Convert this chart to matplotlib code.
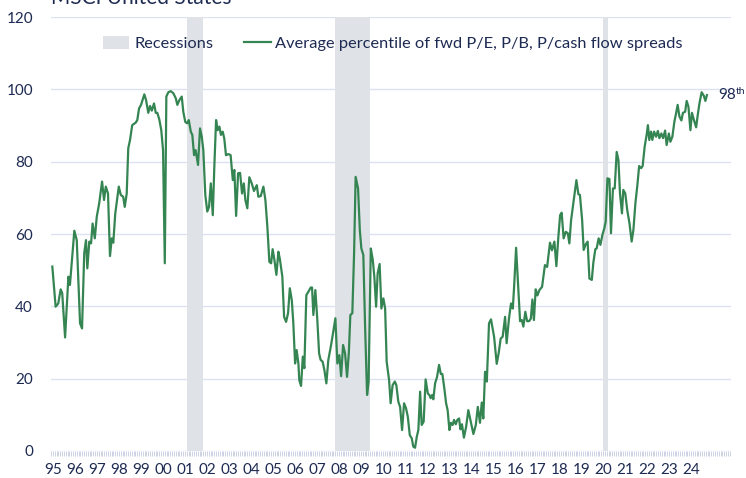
import matplotlib
matplotlib.use("Agg")
import matplotlib.pyplot as plt
from matplotlib.patches import Patch
from matplotlib.lines import Line2D
from matplotlib.ticker import MultipleLocator

# --- data (fractional year, percentile) ---
dates = [
    1995.06, 1995.21, 1995.33, 1995.44, 1995.51, 1995.64, 1995.79, 1995.86, 1996.06, 1996.17,
    1996.32, 1996.41, 1996.51, 1996.59, 1996.65, 1996.74, 1996.82, 1996.89, 1996.99, 1997.08,
    1997.19, 1997.32, 1997.41, 1997.49, 1997.59, 1997.68, 1997.76, 1997.83, 1997.92, 1998.08,
    1998.17, 1998.28, 1998.35, 1998.44, 1998.51, 1998.59, 1998.69, 1998.85, 1998.92, 1999.00,
    1999.09, 1999.24, 1999.32, 1999.42, 1999.50, 1999.58, 1999.68, 1999.76, 1999.83, 1999.92,
    2000.01, 2000.09, 2000.17, 2000.24, 2000.33, 2000.44, 2000.56, 2000.67, 2000.74, 2000.83,
    2000.94, 2001.01, 2001.10, 2001.18, 2001.26, 2001.35, 2001.42, 2001.50, 2001.57, 2001.68,
    2001.77, 2001.85, 2001.92, 2002.01, 2002.10, 2002.18, 2002.26, 2002.35, 2002.42, 2002.50,
    2002.57, 2002.65, 2002.72, 2002.80, 2002.87, 2002.95, 2003.06, 2003.16, 2003.26, 2003.33,
    2003.41, 2003.50, 2003.59, 2003.68, 2003.76, 2003.83, 2003.92, 2004.01, 2004.12, 2004.22,
    2004.35, 2004.42, 2004.53, 2004.65, 2004.74, 2004.83, 2004.92, 2005.00, 2005.07, 2005.15,
    2005.24, 2005.33, 2005.40, 2005.51, 2005.59, 2005.68, 2005.77, 2005.85, 2005.94, 2006.01,
    2006.09, 2006.16, 2006.24, 2006.28, 2006.36, 2006.44, 2006.51, 2006.60, 2006.69, 2006.80,
    2006.86, 2006.92, 2007.01, 2007.10, 2007.18, 2007.25, 2007.34, 2007.42, 2007.51, 2007.60,
    2007.71, 2007.80, 2007.92, 2008.01, 2008.10, 2008.18, 2008.27, 2008.36, 2008.45, 2008.53,
    2008.60, 2008.69, 2008.77, 2008.84, 2008.95, 2009.03, 2009.10, 2009.19, 2009.27, 2009.36,
    2009.43, 2009.53, 2009.62, 2009.69, 2009.77, 2009.84, 2009.93, 2010.01, 2010.10, 2010.18,
    2010.25, 2010.36, 2010.43, 2010.52, 2010.62, 2010.69, 2010.78, 2010.86, 2010.95, 2011.04,
    2011.13, 2011.21, 2011.30, 2011.39, 2011.46, 2011.54, 2011.62, 2011.69, 2011.77, 2011.84,
    2011.93, 2012.02, 2012.12, 2012.19, 2012.25, 2012.32, 2012.37, 2012.45, 2012.54, 2012.63,
    2012.71, 2012.78, 2012.87, 2012.95, 2013.02, 2013.10, 2013.17, 2013.25, 2013.31, 2013.39,
    2013.46, 2013.54, 2013.60, 2013.67, 2013.76, 2013.86, 2013.96, 2014.07, 2014.19, 2014.30,
    2014.39, 2014.49, 2014.57, 2014.64, 2014.72, 2014.80, 2014.90, 2014.99, 2015.13, 2015.25,
    2015.34, 2015.43, 2015.52, 2015.63, 2015.70, 2015.81, 2015.90, 2015.98, 2016.04, 2016.13,
    2016.22, 2016.31, 2016.39, 2016.46, 2016.55, 2016.63, 2016.72, 2016.80, 2016.87, 2016.94,
    2017.02, 2017.10, 2017.19, 2017.31, 2017.44, 2017.54, 2017.67, 2017.76, 2017.87, 2017.96,
    2018.05, 2018.13, 2018.20, 2018.29, 2018.39, 2018.48, 2018.55, 2018.63, 2018.73, 2018.87,
    2018.96, 2019.03, 2019.13, 2019.20, 2019.29, 2019.38, 2019.46, 2019.57, 2019.64, 2019.73,
    2019.79, 2019.88, 2019.96, 2020.05, 2020.14, 2020.20, 2020.28, 2020.37, 2020.44, 2020.53,
    2020.61, 2020.70, 2020.78, 2020.85, 2020.94, 2021.00, 2021.09, 2021.18, 2021.28, 2021.38,
    2021.46, 2021.55, 2021.64, 2021.72, 2021.81, 2021.88, 2021.97, 2022.07, 2022.12, 2022.18,
    2022.26, 2022.32, 2022.40, 2022.49, 2022.57, 2022.64, 2022.73, 2022.81, 2022.90, 2022.97,
    2023.07, 2023.14, 2023.23, 2023.32, 2023.40, 2023.47, 2023.55, 2023.64, 2023.71, 2023.81,
    2023.88, 2023.96, 2024.05, 2024.12, 2024.21, 2024.31, 2024.38, 2024.46, 2024.56, 2024.66,
    2024.73, 2024.80,
]
percentile = [
    51.0, 39.9, 40.8, 44.7, 43.6, 31.4, 48.2, 45.9, 60.9, 58.3,
    35.3, 33.9, 54.7, 58.3, 50.5, 57.9, 57.4, 62.9, 58.8, 64.8,
    68.5, 74.5, 69.4, 73.1, 71.2, 53.9, 58.8, 57.6, 65.7, 73.1,
    70.8, 70.3, 67.5, 71.2, 83.7, 86.0, 90.1, 90.8, 91.5, 94.7,
    95.7, 98.6, 97.0, 93.5, 95.4, 94.1, 96.1, 93.5, 93.5, 91.7,
    88.7, 83.2, 51.9, 98.0, 99.2, 99.5, 98.9, 97.5, 95.7, 97.0,
    98.0, 93.8, 91.0, 90.6, 91.5, 88.3, 87.4, 81.8, 83.2, 79.1,
    89.2, 86.9, 83.2, 70.8, 66.2, 67.5, 74.0, 65.2, 78.6, 91.5,
    88.7, 89.7, 87.4, 88.3, 86.5, 81.8, 82.1, 81.8, 74.9, 77.7,
    65.0, 76.8, 76.9, 71.2, 74.0, 69.4, 67.1, 75.7, 74.0, 71.9,
    73.5, 70.3, 70.5, 73.1, 69.4, 62.0, 52.3, 51.9, 55.8, 52.8,
    48.7, 55.1, 53.0, 48.2, 37.1, 35.7, 38.1, 45.0, 41.7, 35.3,
    24.2, 27.9, 24.2, 19.6, 18.0, 26.1, 22.9, 43.1, 44.0, 45.2,
    45.2, 37.6, 44.5, 36.2, 27.0, 25.2, 24.7, 22.4, 18.7, 25.2,
    28.8, 32.1, 36.7, 24.2, 26.5, 20.7, 29.3, 27.0, 20.5, 27.0,
    37.6, 38.1, 54.7, 75.8, 72.6, 61.1, 56.0, 54.2, 34.4, 15.5,
    19.2, 56.0, 52.8, 48.2, 39.9, 49.1, 51.7, 39.4, 42.2, 39.4,
    24.7, 19.6, 13.2, 18.2, 19.2, 18.2, 13.6, 12.2, 5.8, 13.2,
    11.8, 9.5, 4.4, 3.5, 1.2, 0.9, 4.0, 5.8, 16.4, 7.2,
    8.1, 19.8, 15.9, 15.5, 14.6, 15.5, 14.3, 18.7, 20.5, 23.8,
    21.3, 21.3, 17.3, 13.2, 11.3, 5.8, 7.8, 7.2, 8.6, 7.4,
    8.6, 9.0, 6.0, 7.4, 3.7, 6.7, 11.3, 8.1, 4.7, 7.2,
    12.2, 7.8, 13.4, 9.0, 21.9, 19.2, 35.3, 36.4, 31.6, 24.1,
    27.1, 31.1, 31.6, 37.1, 29.8, 36.8, 40.8, 39.4, 45.4, 56.2,
    45.9, 35.9, 36.2, 34.4, 38.5, 35.9, 35.9, 36.6, 41.9, 36.2,
    44.7, 43.0, 44.5, 45.4, 51.4, 50.9, 57.6, 55.5, 57.9, 51.1,
    59.2, 65.2, 65.9, 58.8, 60.6, 60.2, 57.4, 63.9, 68.5, 74.9,
    71.0, 70.8, 63.9, 55.6, 57.1, 57.9, 47.7, 47.3, 52.1, 55.8,
    56.0, 58.8, 57.0, 59.7, 61.6, 63.4, 75.4, 75.2, 60.2, 72.6,
    72.6, 82.7, 80.4, 71.2, 65.7, 72.2, 71.2, 66.6, 63.0, 57.9,
    61.1, 68.5, 73.5, 78.8, 78.2, 78.8, 84.1, 87.8, 90.1, 86.0,
    88.3, 86.0, 88.3, 86.9, 88.5, 86.5, 87.8, 86.5, 88.6, 84.6,
    87.8, 85.5, 86.9, 91.0, 93.4, 95.7, 92.5, 91.4, 93.5, 93.8,
    96.8, 95.2, 88.7, 93.5, 91.5, 89.5, 92.8, 96.1, 99.2, 98.2,
    96.8, 98.4,
]

recession_start = [2001.17, 2007.92, 2020.08]
recession_end = [2001.90, 2009.50, 2020.32]

year_labels = ["95", "96", "97", "98", "99", "00", "01", "02", "03", "04",
               "05", "06", "07", "08", "09", "10", "11", "12", "13", "14",
               "15", "16", "17", "18", "19", "20", "21", "22", "23", "24"]
y_ticks = [0, 20, 40, 60, 80, 100, 120]

title = "MSCI United States"
series_label = "Average percentile of fwd P/E, P/B, P/cash flow spreads"
last_label = "98"

# --- style ---
NAVY = "#1d2a52"
GREEN = "#358553"
GREY = "#dfe2e6"
GRID = "#dde2f0"
FONT = "Lato"

plt.rcParams["font.family"] = [FONT, "DejaVu Sans"]

fig = plt.figure(figsize=(7.46, 4.78), dpi=100)
ax = fig.add_axes([51 / 746, 1 - 451 / 478, (730.7 - 51) / 746, (451 - 17) / 478])

for s, e in zip(recession_start, recession_end):
    ax.axvspan(s, e, color=GREY, lw=0, zorder=1)

ax.plot(dates, percentile, color=GREEN, lw=1.6, zorder=3)

ax.set_xlim(1995.0, 2025.88)
ax.set_ylim(0, 120)
ax.set_yticks(y_ticks)
ax.yaxis.grid(True, color=GRID, lw=1.0, zorder=0)
ax.set_axisbelow(True)
for sp in ax.spines.values():
    sp.set_visible(False)

ax.set_xticks([1995.1 + i for i in range(len(year_labels))])
ax.set_xticklabels(year_labels)
ax.xaxis.set_minor_locator(MultipleLocator(1 / 12))
ax.tick_params(axis="x", which="major", length=0, pad=9, labelsize=11, labelcolor=NAVY)
ax.tick_params(axis="x", which="minor", length=3.5, width=0.6, color="#c6cce0", direction="out")
ax.tick_params(axis="y", length=0, pad=13, labelsize=11, labelcolor=NAVY)

# last value label with superscript suffix
ax.annotate(last_label, xy=(2025.30, 98.4), va="center", ha="left",
            fontsize=11, color=NAVY, annotation_clip=False)
ax.annotate("th", xy=(2025.30, 98.4), xytext=(18, 4), textcoords="offset pixels",
            va="center", ha="left", fontsize=7.5, color=NAVY, annotation_clip=False)

# title, partly cut off by the top edge
fig.text(51 / 746, 1 - 4 / 478, title, ha="left", va="baseline",
         fontsize=15, color=NAVY)

handles = [Patch(facecolor=GREY, edgecolor="none"),
           Line2D([0], [0], color=GREEN, lw=1.6)]
leg = fig.legend(handles, ["Recessions", series_label], ncol=2, frameon=False,
                 loc="center", bbox_to_anchor=(393 / 746, 1 - 43.5 / 478),
                 fontsize=11.8, handlelength=1.6, handleheight=0.8,
                 handletextpad=0.3, columnspacing=1.9)
for t in leg.get_texts():
    t.set_color(NAVY)

fig.savefig("out.png", dpi=100)
